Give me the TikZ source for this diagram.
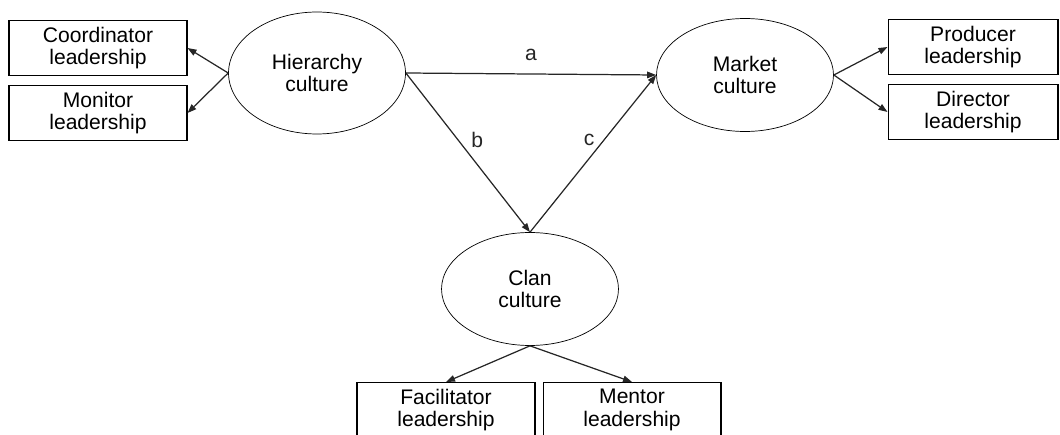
\documentclass[tikz,border=0pt]{standalone}
\usepackage{fontspec}
\setmainfont{Liberation Sans}
\usetikzlibrary{positioning,arrows.meta,shapes.geometric}

\begin{document}
\begin{tikzpicture}[x=0.02cm, y=-0.02cm, font=\fontsize{12}{12.8}\selectfont,
  culture/.style={ellipse, draw, thin, minimum width=3.54cm, minimum height=2.26cm, align=center, inner sep=0pt},
  lead/.style={rectangle, draw, semithick, minimum width=3.56cm, minimum height=1.1cm, align=center, inner sep=1pt},
  link/.style={-{Triangle[length=1.8mm,width=1.3mm]}, line width=0.7pt, black!85}]
\useasboundingbox (0,0) rectangle (1060,435);
\clip (0,0) rectangle (1060,435);
% cultures
\node[culture, minimum height=2.44cm] (hier) at (317,73) {Hierarchy\\culture};
\node[culture] (market) at (745,75) {Market\\culture};
\node[culture] (clan) at (530,289) {Clan\\culture};
% leadership roles
\node[lead] (coord) at (98,48) {Coordinator\\leadership};
\node[lead] (monitor) at (98,113) {Monitor\\leadership};
\node[lead, minimum width=3.4cm] (producer) at (973,47) {Producer\\leadership};
\node[lead, minimum width=3.4cm] (director) at (973,112) {Director\\leadership};
\node[lead] (facil) at (446,410) {Facilitator\\leadership};
\node[lead] (mentor) at (632,410) {Mentor\\leadership};
\draw[link] (hier.west) -- (coord.east);
\draw[link] (hier.west) -- (monitor.east);
\draw[link] (market.east) -- (producer.west);
\draw[link] (market.east) -- (director.west);
\draw[link] (clan.south) -- (facil.north);
\draw[link] (clan.south) -- (mentor.north);
% paths between cultures
\draw[link] (hier.east) -- node[midway, above=4pt] {a} (market.west);
\draw[link] (hier.east) -- node[pos=0.42, right=4pt] {b} (clan.north);
\draw[link] (clan.north) -- node[pos=0.59, left=2pt] {c} (market.west);
\end{tikzpicture}
\end{document}
